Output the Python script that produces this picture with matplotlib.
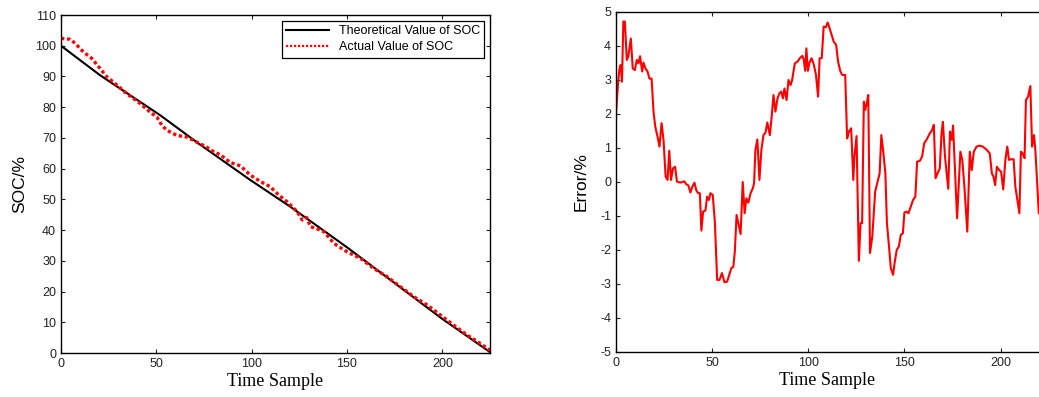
# soc_plot.py
# SOC estimate vs. theoretical value, plus the estimation error.

import matplotlib
matplotlib.use("Agg")
import matplotlib.pyplot as plt

# left panel: theoretical SOC
theo_t = [0, 20.5, 52, 73, 99.3, 120.3, 150, 200, 225]
theo_soc = [100, 90.4, 77.4, 67.8, 56.3, 47.6, 34.4, 11.1, 0.3]

# left panel: actual SOC (red dotted)
act_t = [0, 4.7, 7.4, 11.7, 16.1, 20.5, 24.0, 28.4, 34.5, 41.5, 46.8, 50.3,
         52.9, 55.5, 60.8, 66.0, 71.3, 76.5, 78.3, 83.6, 88.8, 94.1, 99.3,
         104.6, 109.8, 114.2, 118.6, 123.9, 126.5, 128.8, 130.9, 134.0,
         137.8, 140.0, 143.1, 146.0, 150.1, 157.1, 164.1, 171.1, 178.1,
         185.1, 192.1, 199.1, 206.1, 213.1, 220.1, 225]
act_soc = [102.4, 102.1, 100.8, 98.0, 95.9, 92.6, 89.9, 87.7, 84.4, 81.2, 78.4,
           76.8, 74.1, 72.5, 70.8, 70.3, 68.6, 67.0, 66.1, 64.5, 62.0, 60.9,
           57.9, 55.8, 54.1, 51.4, 49.2, 46.0, 43.3, 44.1, 41.1, 40.5, 39.5,
           38.0, 35.7, 34.5, 32.9, 30.8, 27.5, 24.8, 21.5, 18.3, 15.6, 12.3,
           9.0, 5.8, 3.0, 0.9]

# right panel: error in %
err_t = [0, 1.2, 1.7, 2.4, 3.1, 3.8, 4.6, 5.6, 6.4, 7.7, 8.7, 9.8, 10.8, 11.7,
         12.5, 13.6, 14.3, 15.3, 16.4, 17.4, 18.5, 19.5, 20.4, 21.6, 22.6,
         23.7, 24.7, 25.8, 26.8, 27.7, 28.6, 29.6, 30.7, 31.7, 33.4, 35.5,
         36.6, 37.6, 38.7, 39.7, 40.8, 41.8, 42.7, 43.6, 44.4, 45.3, 46.5,
         47.4, 48.3, 49.1, 50.3, 51.4, 52.6, 53.8, 55.1, 56.4, 57.8, 58.9,
         60.0, 61.0, 61.8, 62.7, 63.6, 64.8, 65.9, 66.9, 67.8, 68.8, 70.0,
         71.1, 71.8, 72.5, 73.5, 74.6, 75.6, 76.7, 77.7, 78.7, 80.0, 80.8,
         81.9, 82.9, 84.0, 85.0, 85.9, 86.8, 87.6, 88.7, 89.7, 90.8, 91.6,
         93.0, 94.4, 95.6, 96.9, 97.6, 98.4, 99.0, 99.8, 100.5, 101.7, 102.8,
         104.0, 105.1, 105.9, 107.0, 108.0, 109.1, 110.1, 111.1, 112.2,
         113.2, 114.5, 115.5, 116.6, 117.6, 119.2, 120.2, 121.1, 122.3,
         123.4, 124.0, 125.1, 126.3, 127.2, 128.0, 128.9, 129.6, 130.4,
         131.2, 132.1, 133.3, 134.8, 137.1, 138.0, 139.0, 140.1, 140.9,
         142.0, 142.9, 144.1, 145.0, 146.0, 147.1, 148.1, 149.2, 150.0,
         151.0, 152.1, 153.3, 154.5, 155.7, 156.6, 158.0, 159.2, 160.3,
         161.5, 163.2, 164.4, 165.3, 166.2, 167.2, 168.4, 169.3, 170.0,
         171.1, 172.8, 173.7, 174.6, 175.3, 177.4, 179.1, 180.1, 181.2,
         182.7, 184.0, 185.0, 186.1, 187.5, 189.0, 190.8, 192.9, 194.4,
         195.5, 196.3, 197.2, 198.1, 199.3, 200.3, 201.4, 202.5, 203.5,
         204.4, 205.6, 206.8, 207.7, 209.8, 210.6, 211.5, 212.5, 213.2,
         214.3, 215.5, 216.4, 217.4, 218.1, 219.9, 221.3]
err_pct = [2.02, 3.0, 3.3, 3.44, 2.95, 4.72, 4.72, 3.59, 3.69, 4.22, 3.34, 3.29,
           3.59, 3.49, 3.7, 3.25, 3.51, 3.34, 3.25, 3.04, 3.04, 2.07, 1.63,
           1.33, 1.04, 1.73, 1.24, 0.16, 0.06, 0.92, 0.06, 0.4, 0.45, 0.01,
           -0.02, 0.02, -0.07, -0.1, -0.31, -0.14, -0.02, -0.25, -0.33, -0.33,
           -1.43, -0.87, -0.84, -0.43, -0.53, -0.33, -0.38, -1.16, -2.88,
           -2.88, -2.68, -2.95, -2.93, -2.73, -2.53, -2.5, -2.04, -0.97, -1.21,
           -1.53, 0.0, -0.92, -0.48, -0.61, -0.33, -0.19, -0.04, 0.94, 1.25,
           0.06, 0.94, 1.38, 1.45, 1.75, 1.38, 1.82, 2.56, 2.07, 2.46, 2.61,
           2.66, 2.46, 2.75, 2.41, 3.0, 2.85, 3.0, 3.49, 3.54, 3.64, 3.71,
           3.61, 3.27, 3.93, 3.27, 3.49, 3.64, 3.47, 3.15, 2.51, 3.64, 3.64,
           4.57, 4.55, 4.69, 4.52, 4.32, 4.13, 4.03, 3.54, 3.27, 3.15, 3.15,
           1.28, 1.48, 1.58, 0.06, 0.75, 1.35, -2.32, -1.21, -1.21, 2.36,
           2.12, 2.31, 2.56, -2.09, -1.6, -0.28, 0.25, 1.38, 0.89, 0.25, -1.21,
           -1.9, -2.53, -2.73, -2.34, -2.0, -1.9, -1.56, -1.51, -0.9, -0.87,
           -0.92, -0.72, -0.53, -0.43, 0.6, 0.62, 0.75, 1.14, 1.24, 1.43, 1.53,
           1.68, 0.11, 0.25, 0.4, 1.43, 1.77, 0.75, -0.2, 1.48, 1.24, 1.66,
           -1.07, 0.89, 0.65, -0.14, -1.46, 0.89, 0.35, 0.89, 1.04, 1.07, 1.04,
           0.94, 0.84, 0.25, 0.16, -0.09, 0.45, 0.35, 0.30, -0.22, 0.65, 1.04,
           0.65, 0.67, 0.67, -0.14, -0.92, 0.89, 0.84, 0.7, 2.41, 2.51, 2.82,
           1.04, 1.38, 0.94, -0.92, -0.97]

plt.rcParams['font.family'] = ['Liberation Sans', 'DejaVu Sans']
plt.rcParams['xtick.direction'] = 'in'
plt.rcParams['ytick.direction'] = 'in'
plt.rcParams['axes.unicode_minus'] = False

fig = plt.figure(figsize=(10.39, 3.97), dpi=100)
ax1 = fig.add_axes([0.0587, 0.1108, 0.4129, 0.8514])
ax2 = fig.add_axes([0.5929, 0.1134, 0.4071, 0.8564])

# left: SOC
ax1.plot(theo_t, theo_soc, color='black', linewidth=1.5, label='Theoretical Value of SOC')
ax1.plot(act_t, act_soc, color='red', linestyle=(0, (1, 0.8)), linewidth=2.4,
         label='Actual Value of SOC')
ax1.set_xlim(0, 225)
ax1.set_ylim(0, 110)
ax1.set_xticks(range(0, 201, 50))
ax1.set_yticks(range(0, 111, 10))
ax1.tick_params(top=True, right=True, length=3, labelsize=9, colors='#222222')
ax1.set_xlabel('Time Sample', family='Liberation Serif', fontsize=13, labelpad=2)
ax1.set_ylabel('SOC/%', fontsize=12.5, labelpad=6)
leg = ax1.legend(loc='upper right', fontsize=9, fancybox=False, framealpha=1,
                 edgecolor='black', borderaxespad=0.45, handlelength=3.4,
                 labelspacing=0.35, borderpad=0.35)
leg.get_frame().set_linewidth(0.9)
leg.get_lines()[1].set_linewidth(1.6)

# right: error
ax2.plot(err_t, err_pct, color='red', linewidth=1.5)
ax2.set_xlim(0, 220)
ax2.set_ylim(-5, 5)
ax2.set_xticks(range(0, 201, 50))
ax2.set_yticks(range(-5, 6))
ax2.spines['right'].set_visible(False)
ax2.tick_params(top=True, right=False, length=3, labelsize=9, colors='#222222')
ax2.set_xlabel('Time Sample', family='Liberation Serif', fontsize=13, labelpad=2)
ax2.set_ylabel('Error/%', fontsize=12.5, labelpad=8)

for ax in (ax1, ax2):
    for sp in ax.spines.values():
        sp.set_linewidth(1.0)

fig.savefig('out.png', dpi=100)
